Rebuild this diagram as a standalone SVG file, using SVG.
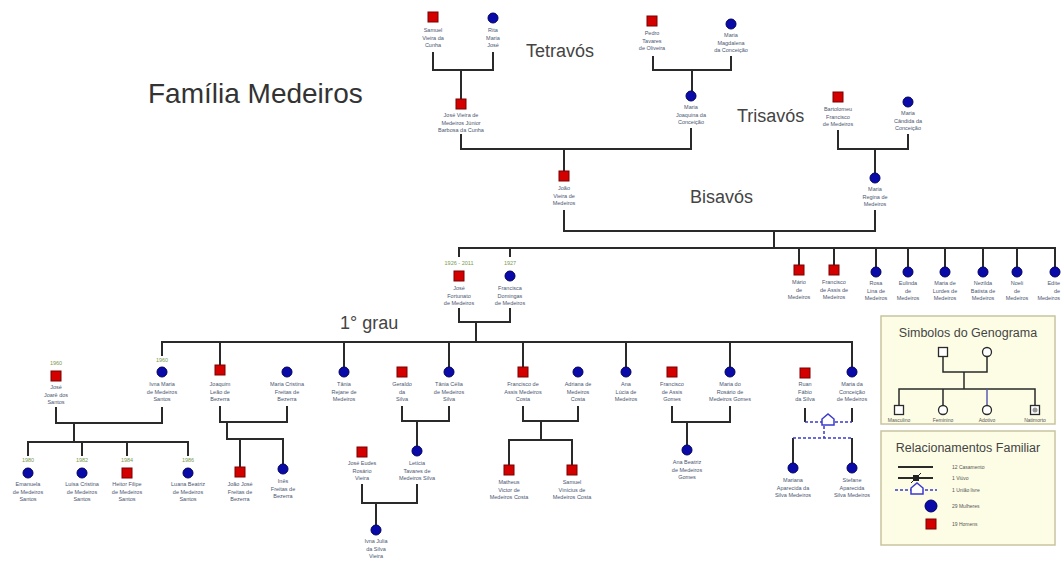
<svg xmlns="http://www.w3.org/2000/svg" width="1062" height="561" viewBox="0 0 1062 561">
<style>
text{font-family:"Liberation Sans",Arial,sans-serif}
.h1{font-size:28px;fill:#333}
.gen{font-size:18px;fill:#444}
.lbl{font-size:5.5px;fill:#4a5670;text-anchor:middle}
.yr{font-size:5.5px;fill:#7a9a50;text-anchor:middle}
.sq{fill:#d40000;stroke:#7a0000;stroke-width:1}
.ci{fill:#0a0aa8;stroke:#000060;stroke-width:1}
.ln{fill:none;stroke:#2a2a2a;stroke-width:2}
.bl{fill:none;stroke:#3a3ad0;stroke-width:1.5;stroke-dasharray:3 2}
.house{fill:#fff;stroke:#3a3ad0;stroke-width:1.5}
.box{fill:#fdfde6;stroke:#c8c4a0;stroke-width:1.5}
.lt{font-size:12.5px;fill:#444;text-anchor:middle}
.ls{font-size:5px;fill:#555}
.osq{fill:#fff;stroke:#2a2a2a;stroke-width:1.3}
</style>
<rect width="1062" height="561" fill="#fff"/>
<text class="h1" x="148" y="103">Família Medeiros</text>
<text class="gen" x="526" y="57">Tetravós</text>
<text class="gen" x="737" y="122">Trisavós</text>
<text class="gen" x="690" y="203">Bisavós</text>
<text class="gen" x="340" y="329">1° grau</text>

<g id="connectors">
<path class="ln" d="M433 52V70H493V52M461 70V99"/>
<path class="ln" d="M653 56V70H731V56M692 70V91"/>
<path class="ln" d="M461 134V149H691V128M564 149V171"/>
<path class="ln" d="M838 130V149H908V134M875 149V173"/>
<path class="ln" d="M564 210V231H875V210M774 231V248"/>
<path class="ln" d="M459 257V248H1055V267M510 248V257M799 248V265M834 248V265M876 248V267M908 248V267M945 248V267M983 248V267M1017 248V267"/>
<path class="ln" d="M459 308V322H510V308M476 322V342"/>
<path class="ln" d="M162 356V342H852V367M220 342V365M344 342V367M449 342V367M523 342V367M626 342V367M730 342V367"/>
<path class="ln" d="M56 407V423H162V407M74 423V442M28 456V442H188V456M82 442V456M127 442V456"/>
<path class="ln" d="M220 406V422H287V406M227 422V439H283V464M240 439V467"/>
<path class="ln" d="M402 406V421H449V406M417 421V446"/>
<path class="ln" d="M362 484V503H417V484M376 503V525"/>
<path class="ln" d="M523 406V421H578V406M541 421V440M509 465V440H572V465"/>
<path class="ln" d="M672 406V422H730V406M687 422V445"/>
<path class="ln" d="M805 408V422M852 408V422M793 438V463M852 438V463"/>
<path class="bl" d="M805 422H852M824 426V438M793 438H852"/>
<path class="house" d="M822 425V419L828 414L834 419V425Z"/>
</g>

<g id="n-samuel"><rect class="sq" x="428" y="12" width="10" height="10"/><text class="lbl" x="433" y="32"><tspan x="433">Samuel</tspan><tspan x="433" dy="7.6">Vieira da</tspan><tspan x="433" dy="7.6">Cunha</tspan></text></g>
<g id="n-rita"><circle class="ci" cx="493" cy="18" r="5"/><text class="lbl" x="493" y="32"><tspan x="493">Rita</tspan><tspan x="493" dy="7.6">Maria</tspan><tspan x="493" dy="7.6">José</tspan></text></g>
<g id="n-pedro"><rect class="sq" x="647" y="16" width="10" height="10"/><text class="lbl" x="652" y="35"><tspan x="652">Pedro</tspan><tspan x="652" dy="7.6">Tavares</tspan><tspan x="652" dy="7.6">de Oliveira</tspan></text></g>
<g id="n-magdalena"><circle class="ci" cx="731" cy="24" r="5"/><text class="lbl" x="731" y="37"><tspan x="731">Maria</tspan><tspan x="731" dy="7.6">Magdalena</tspan><tspan x="731" dy="7.6">da Conceição</tspan></text></g>
<g id="n-jose-vieira"><rect class="sq" x="456" y="99" width="10" height="10"/><text class="lbl" x="461" y="117"><tspan x="461">José Vieira de</tspan><tspan x="461" dy="7.6">Medeiros Júnior</tspan><tspan x="461" dy="7.6">Barbosa da Cunha</tspan></text></g>
<g id="n-joaquina"><circle class="ci" cx="691" cy="96" r="5"/><text class="lbl" x="691" y="109"><tspan x="691">Maria</tspan><tspan x="691" dy="7.6">Joaquina da</tspan><tspan x="691" dy="7.6">Conceição</tspan></text></g>
<g id="n-bartolomeu"><rect class="sq" x="833" y="92" width="10" height="10"/><text class="lbl" x="838" y="111"><tspan x="838">Bartolomeu</tspan><tspan x="838" dy="7.6">Francisco</tspan><tspan x="838" dy="7.6">de Medeiros</tspan></text></g>
<g id="n-candida"><circle class="ci" cx="908" cy="102" r="5"/><text class="lbl" x="908" y="115"><tspan x="908">Maria</tspan><tspan x="908" dy="7.6">Cândida da</tspan><tspan x="908" dy="7.6">Conceição</tspan></text></g>
<g id="n-joao"><rect class="sq" x="559" y="171" width="10" height="10"/><text class="lbl" x="564" y="190"><tspan x="564">João</tspan><tspan x="564" dy="7.6">Vieira de</tspan><tspan x="564" dy="7.6">Medeiros</tspan></text></g>
<g id="n-regina"><circle class="ci" cx="875" cy="178" r="5"/><text class="lbl" x="875" y="191"><tspan x="875">Maria</tspan><tspan x="875" dy="7.6">Regina de</tspan><tspan x="875" dy="7.6">Medeiros</tspan></text></g>

<g id="n-jose-fortunato"><text class="yr" x="459" y="265">1926 - 2011</text><rect class="sq" x="454" y="271" width="10" height="10"/><text class="lbl" x="459" y="290"><tspan x="459">José</tspan><tspan x="459" dy="7.6">Fortunato</tspan><tspan x="459" dy="7.6">de Medeiros</tspan></text></g>
<g id="n-francisca"><text class="yr" x="510" y="265">1927</text><circle class="ci" cx="510" cy="276" r="5"/><text class="lbl" x="510" y="290"><tspan x="510">Francisca</tspan><tspan x="510" dy="7.6">Domingas</tspan><tspan x="510" dy="7.6">de Medeiros</tspan></text></g>
<g id="n-mario"><rect class="sq" x="794" y="265" width="10" height="10"/><text class="lbl" x="799" y="284"><tspan x="799">Mário</tspan><tspan x="799" dy="7.6">de</tspan><tspan x="799" dy="7.6">Medeiros</tspan></text></g>
<g id="n-francisco-assis"><rect class="sq" x="829" y="265" width="10" height="10"/><text class="lbl" x="834" y="284"><tspan x="834">Francisco</tspan><tspan x="834" dy="7.6">de Assis de</tspan><tspan x="834" dy="7.6">Medeiros</tspan></text></g>
<g id="n-rosa"><circle class="ci" cx="876" cy="272" r="5"/><text class="lbl" x="876" y="285"><tspan x="876">Rosa</tspan><tspan x="876" dy="7.6">Lina de</tspan><tspan x="876" dy="7.6">Medeiros</tspan></text></g>
<g id="n-eulinda"><circle class="ci" cx="908" cy="272" r="5"/><text class="lbl" x="908" y="285"><tspan x="908">Eulinda</tspan><tspan x="908" dy="7.6">de</tspan><tspan x="908" dy="7.6">Medeiros</tspan></text></g>
<g id="n-lurdes"><circle class="ci" cx="945" cy="272" r="5"/><text class="lbl" x="945" y="285"><tspan x="945">Maria de</tspan><tspan x="945" dy="7.6">Lurdes de</tspan><tspan x="945" dy="7.6">Medeiros</tspan></text></g>
<g id="n-nezilda"><circle class="ci" cx="983" cy="272" r="5"/><text class="lbl" x="983" y="285"><tspan x="983">Nezilda</tspan><tspan x="983" dy="7.6">Batista de</tspan><tspan x="983" dy="7.6">Medeiros</tspan></text></g>
<g id="n-noeli"><circle class="ci" cx="1017" cy="272" r="5"/><text class="lbl" x="1017" y="285"><tspan x="1017">Noeli</tspan><tspan x="1017" dy="7.6">de</tspan><tspan x="1017" dy="7.6">Medeiros</tspan></text></g>
<g id="n-edite"><circle class="ci" cx="1055" cy="272" r="5"/><text class="lbl" x="1060" y="285" style="text-anchor:end"><tspan x="1060">Edite</tspan><tspan x="1060" dy="7.6">de</tspan><tspan x="1060" dy="7.6">Medeiros</tspan></text></g>

<g id="n-joca"><text class="yr" x="56" y="365">1960</text><rect class="sq" x="51" y="371" width="10" height="10"/><text class="lbl" x="56" y="389"><tspan x="56">José</tspan><tspan x="56" dy="7.6">Joarê dos</tspan><tspan x="56" dy="7.6">Santos</tspan></text></g>
<g id="n-ivna"><text class="yr" x="162" y="362">1960</text><circle class="ci" cx="162" cy="372" r="5"/><text class="lbl" x="162" y="386"><tspan x="162">Ivna Maria</tspan><tspan x="162" dy="7.6">de Medeiros</tspan><tspan x="162" dy="7.6">Santos</tspan></text></g>
<g id="n-joaquim"><rect class="sq" x="215" y="365" width="10" height="10"/><text class="lbl" x="220" y="386"><tspan x="220">Joaquim</tspan><tspan x="220" dy="7.6">Leão de</tspan><tspan x="220" dy="7.6">Bezerra</tspan></text></g>
<g id="n-cristina"><circle class="ci" cx="287" cy="372" r="5"/><text class="lbl" x="287" y="386"><tspan x="287">Maria Cristina</tspan><tspan x="287" dy="7.6">Freitas de</tspan><tspan x="287" dy="7.6">Bezerra</tspan></text></g>
<g id="n-tania"><circle class="ci" cx="344" cy="372" r="5"/><text class="lbl" x="344" y="386"><tspan x="344">Tânia</tspan><tspan x="344" dy="7.6">Rejane de</tspan><tspan x="344" dy="7.6">Medeiros</tspan></text></g>
<g id="n-geraldo"><rect class="sq" x="397" y="367" width="10" height="10"/><text class="lbl" x="402" y="386"><tspan x="402">Geraldo</tspan><tspan x="402" dy="7.6">da</tspan><tspan x="402" dy="7.6">Silva</tspan></text></g>
<g id="n-tania-celia"><circle class="ci" cx="449" cy="372" r="5"/><text class="lbl" x="449" y="386"><tspan x="449">Tânia Célia</tspan><tspan x="449" dy="7.6">de Medeiros</tspan><tspan x="449" dy="7.6">Silva</tspan></text></g>
<g id="n-francisco-costa"><rect class="sq" x="518" y="367" width="10" height="10"/><text class="lbl" x="523" y="386"><tspan x="523">Francisco de</tspan><tspan x="523" dy="7.6">Assis Medeiros</tspan><tspan x="523" dy="7.6">Costa</tspan></text></g>
<g id="n-adriana"><circle class="ci" cx="578" cy="372" r="5"/><text class="lbl" x="578" y="386"><tspan x="578">Adriana de</tspan><tspan x="578" dy="7.6">Medeiros</tspan><tspan x="578" dy="7.6">Costa</tspan></text></g>
<g id="n-ana-lucia"><circle class="ci" cx="626" cy="372" r="5"/><text class="lbl" x="626" y="386"><tspan x="626">Ana</tspan><tspan x="626" dy="7.6">Lúcia de</tspan><tspan x="626" dy="7.6">Medeiros</tspan></text></g>
<g id="n-francisco-gomes"><rect class="sq" x="667" y="367" width="10" height="10"/><text class="lbl" x="672" y="386"><tspan x="672">Francisco</tspan><tspan x="672" dy="7.6">de Assis</tspan><tspan x="672" dy="7.6">Gomes</tspan></text></g>
<g id="n-rosario"><circle class="ci" cx="730" cy="372" r="5"/><text class="lbl" x="730" y="386"><tspan x="730">Maria do</tspan><tspan x="730" dy="7.6">Rosário de</tspan><tspan x="730" dy="7.6">Medeiros Gomes</tspan></text></g>
<g id="n-ruan"><rect class="sq" x="800" y="368" width="10" height="10"/><text class="lbl" x="805" y="386"><tspan x="805">Ruan</tspan><tspan x="805" dy="7.6">Fábio</tspan><tspan x="805" dy="7.6">da Silva</tspan></text></g>
<g id="n-conceicao"><circle class="ci" cx="852" cy="372" r="5"/><text class="lbl" x="852" y="386"><tspan x="852">Maria da</tspan><tspan x="852" dy="7.6">Conceição</tspan><tspan x="852" dy="7.6">de Medeiros</tspan></text></g>

<g id="n-emanuela"><text class="yr" x="28" y="462">1980</text><circle class="ci" cx="28" cy="473" r="5"/><text class="lbl" x="28" y="486"><tspan x="28">Emanuela</tspan><tspan x="28" dy="7.6">de Medeiros</tspan><tspan x="28" dy="7.6">Santos</tspan></text></g>
<g id="n-luisa"><text class="yr" x="82" y="462">1982</text><circle class="ci" cx="82" cy="473" r="5"/><text class="lbl" x="82" y="486"><tspan x="82">Luísa Cristina</tspan><tspan x="82" dy="7.6">de Medeiros</tspan><tspan x="82" dy="7.6">Santos</tspan></text></g>
<g id="n-heitor"><text class="yr" x="127" y="462">1984</text><rect class="sq" x="122" y="468" width="10" height="10"/><text class="lbl" x="127" y="486"><tspan x="127">Heitor Filipe</tspan><tspan x="127" dy="7.6">de Medeiros</tspan><tspan x="127" dy="7.6">Santos</tspan></text></g>
<g id="n-luana"><text class="yr" x="188" y="462">1986</text><circle class="ci" cx="188" cy="473" r="5"/><text class="lbl" x="188" y="486"><tspan x="188">Luana Beatriz</tspan><tspan x="188" dy="7.6">de Medeiros</tspan><tspan x="188" dy="7.6">Santos</tspan></text></g>
<g id="n-joao-jose"><rect class="sq" x="235" y="467" width="10" height="10"/><text class="lbl" x="240" y="486"><tspan x="240">João José</tspan><tspan x="240" dy="7.6">Freitas de</tspan><tspan x="240" dy="7.6">Bezerra</tspan></text></g>
<g id="n-ines"><circle class="ci" cx="283" cy="469" r="5"/><text class="lbl" x="283" y="483"><tspan x="283">Inês</tspan><tspan x="283" dy="7.6">Freitas de</tspan><tspan x="283" dy="7.6">Bezerra</tspan></text></g>
<g id="n-eudes"><rect class="sq" x="357" y="447" width="10" height="10"/><text class="lbl" x="362" y="465"><tspan x="362">José Eudes</tspan><tspan x="362" dy="7.6">Rosário</tspan><tspan x="362" dy="7.6">Vieira</tspan></text></g>
<g id="n-leticia"><circle class="ci" cx="417" cy="451" r="5"/><text class="lbl" x="417" y="465"><tspan x="417">Letícia</tspan><tspan x="417" dy="7.6">Tavares de</tspan><tspan x="417" dy="7.6">Medeiros Silva</tspan></text></g>
<g id="n-ivna-julia"><circle class="ci" cx="376" cy="530" r="5"/><text class="lbl" x="376" y="543"><tspan x="376">Ivna Julia</tspan><tspan x="376" dy="7.6">da Silva</tspan><tspan x="376" dy="7.6">Vieira</tspan></text></g>
<g id="n-matheus"><rect class="sq" x="504" y="465" width="10" height="10"/><text class="lbl" x="509" y="484"><tspan x="509">Matheus</tspan><tspan x="509" dy="7.6">Victor de</tspan><tspan x="509" dy="7.6">Medeiros Costa</tspan></text></g>
<g id="n-samuel-costa"><rect class="sq" x="567" y="465" width="10" height="10"/><text class="lbl" x="572" y="484"><tspan x="572">Samuel</tspan><tspan x="572" dy="7.6">Vinícius de</tspan><tspan x="572" dy="7.6">Medeiros Costa</tspan></text></g>
<g id="n-ana-beatriz"><circle class="ci" cx="687" cy="450" r="5"/><text class="lbl" x="687" y="464"><tspan x="687">Ana Beatriz</tspan><tspan x="687" dy="7.6">de Medeiros</tspan><tspan x="687" dy="7.6">Gomes</tspan></text></g>
<g id="n-mariana"><circle class="ci" cx="793" cy="468" r="5"/><text class="lbl" x="793" y="482"><tspan x="793">Mariana</tspan><tspan x="793" dy="7.6">Aparecida da</tspan><tspan x="793" dy="7.6">Silva Medeiros</tspan></text></g>
<g id="n-stefane"><circle class="ci" cx="852" cy="468" r="5"/><text class="lbl" x="852" y="482"><tspan x="852">Stefane</tspan><tspan x="852" dy="7.6">Aparecida</tspan><tspan x="852" dy="7.6">Silva Medeiros</tspan></text></g>

<g id="legend-simbolos">
<rect class="box" x="881" y="316" width="174" height="108"/>
<text class="lt" x="968" y="337">Simbolos do Genograma</text>
<path class="ln" style="stroke-width:1.5" d="M943 357V372H987V357M964 372V389M899 405V389H1035V405M943 389V405M1035 389V405"/>
<path fill="none" stroke="#5a5ab0" stroke-width="1.5" d="M987 389V405"/>
<rect class="osq" x="938.5" y="347.5" width="9" height="9"/>
<circle class="osq" cx="987" cy="352" r="4.5"/>
<rect class="osq" x="894.5" y="405.5" width="9" height="9"/>
<circle class="osq" cx="943" cy="410" r="4.5"/>
<circle class="osq" cx="987" cy="410" r="4.5"/>
<rect class="osq" x="1030.5" y="405.5" width="9" height="9"/>
<circle cx="1035" cy="410" r="2.5" fill="#999"/>
<text class="ls" x="899" y="422" text-anchor="middle">Masculino</text>
<text class="ls" x="943" y="422" text-anchor="middle">Feminino</text>
<text class="ls" x="987" y="422" text-anchor="middle">Adotivo</text>
<text class="ls" x="1035" y="422" text-anchor="middle">Natimorto</text>
</g>

<g id="legend-relacionamentos">
<rect class="box" x="881" y="431" width="174" height="114"/>
<text class="lt" x="968" y="452">Relacionamentos Familiar</text>
<path class="ln" d="M898 467H933M898 478H933"/>
<rect x="913" y="475" width="6" height="6" fill="#222"/>
<path fill="none" stroke="#222" stroke-width="1" d="M911 483L921 473"/>
<path class="bl" d="M895 490H937"/>
<path class="house" d="M911 494V488L917 483L923 488V494Z"/>
<circle class="ci" cx="931" cy="506" r="6"/>
<rect class="sq" x="926" y="519" width="10" height="10"/>
<text class="ls" x="952" y="469">12 Casamento</text>
<text class="ls" x="952" y="480">1 Viúvo</text>
<text class="ls" x="952" y="492">1 União livre</text>
<text class="ls" x="952" y="508">29 Mulheres</text>
<text class="ls" x="952" y="526">19 Homens</text>
</g>
</svg>
